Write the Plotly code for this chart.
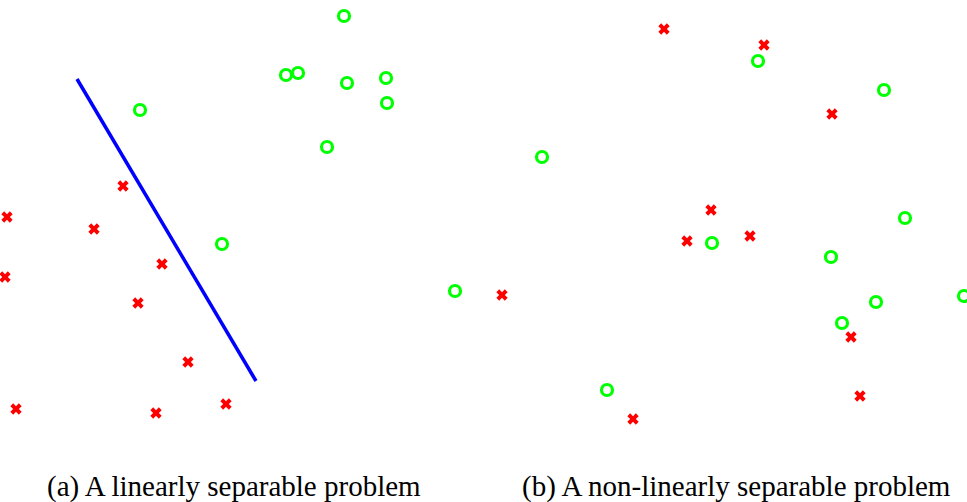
import plotly.graph_objects as go

# Panel (a): linearly separable (pixel-frame coordinates)
a_pos_x = [344, 286, 298, 347, 386, 387, 140, 327, 222]
a_pos_y = [16, 75, 73, 83, 78, 103, 110, 147, 244]
a_neg_x = [123, 7, 94, 162, 5, 138, 188, 16, 156, 226]
a_neg_y = [186, 217, 229, 264, 277, 303, 362, 409, 413, 404]
a_line_x = [77, 256]
a_line_y = [79, 381]

# Panel (b): non-linearly separable
b_pos_x = [758, 884, 542, 905, 712, 831, 455, 876, 964, 842, 607]
b_pos_y = [61, 90, 157, 218, 243, 257, 291, 302, 296, 323, 390]
b_neg_x = [664, 764, 832, 711, 687, 750, 502, 851, 860, 633]
b_neg_y = [29, 45, 114, 210, 241, 236, 295, 337, 396, 419]

captions = ["(a) A linearly separable problem", "(b) A non-linearly separable problem"]
caption_x = [234, 736]
caption_y = [486, 486]

GREEN = "#00ff00"
RED = "#ff0000"
BLUE = "#0000ff"

fig = go.Figure()

fig.add_trace(go.Scatter(x=a_line_x, y=a_line_y, mode="lines",
                         line=dict(color=BLUE, width=3.5), hoverinfo="skip"))

for px, py in [(a_pos_x, a_pos_y), (b_pos_x, b_pos_y)]:
    fig.add_trace(go.Scatter(x=px, y=py, mode="markers",
                             marker=dict(symbol="circle-open", size=11, color=GREEN,
                                         line=dict(width=3.2, color=GREEN))))
for nx, ny in [(a_neg_x, a_neg_y), (b_neg_x, b_neg_y)]:
    fig.add_trace(go.Scatter(x=nx, y=ny, mode="markers",
                             marker=dict(symbol="x", size=10, color=RED,
                                         line=dict(width=0))))

for t, cx, cy in zip(captions, caption_x, caption_y):
    fig.add_annotation(x=cx, y=cy, text=t, showarrow=False, xref="x", yref="y",
                       font=dict(family="Liberation Serif", size=29, color="#000000"))

fig.update_layout(
    width=967, height=502,
    margin=dict(l=0, r=0, t=0, b=0),
    paper_bgcolor="white", plot_bgcolor="white",
    showlegend=False,
    xaxis=dict(range=[0, 967], visible=False, fixedrange=True),
    yaxis=dict(range=[502, 0], visible=False, fixedrange=True),
)

fig.write_html("out.html")
